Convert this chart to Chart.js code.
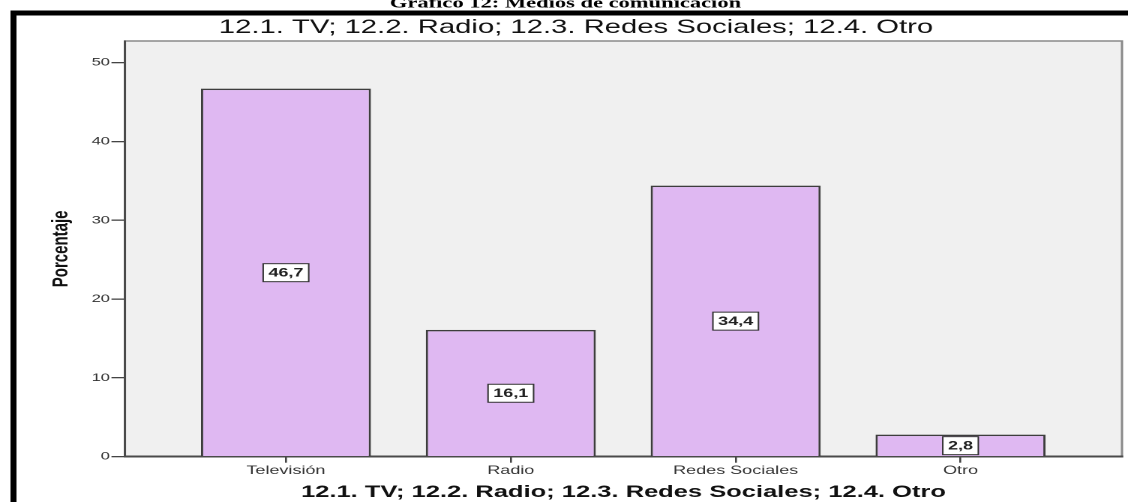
<!DOCTYPE html>
<html>
<head>
<meta charset="utf-8">
<script src="https://cdn.jsdelivr.net/npm/chart.js@4/dist/chart.umd.min.js"></script>
<style>
  html, body { margin: 0; padding: 0; background: #fff; overflow: hidden; }
  /* el gráfico se dibuja en 752px y se estira a lo ancho hasta 1128px */
  #wrap { width: 752px; height: 502px; transform: scale(1.5, 1); transform-origin: 0 0; }
</style>
</head>
<body>
<div id="wrap"><canvas id="grafico" width="752" height="502"></canvas></div>
<script>
// Datos del gráfico
const categorias = ['Televisión', 'Radio', 'Redes Sociales', 'Otro'];
const porcentajes = [46.7, 16.1, 34.4, 2.8];
const marcasY = [0, 10, 20, 30, 40, 50];

const encabezado = 'Gráfico 12: Medios de comunicación';
const tituloVariable = '12.1. TV; 12.2. Radio; 12.3. Redes Sociales; 12.4. Otro';

const FUENTE = '"Liberation Sans", Arial, sans-serif';

function formatoComa(v) {
    return v.toFixed(1).replace('.', ',');
}

// Fondo gris del área de trazado, marco negro y títulos superiores
const marcoPlugin = {
    id: 'marco',
    beforeDraw(chart) {
        const ctx = chart.ctx;
        const a = chart.chartArea;
        ctx.save();
        // marco exterior
        ctx.fillStyle = '#000';
        ctx.fillRect(7, 10.5, 760, 5);
        ctx.fillRect(7, 10.5, 4, 500);
        // encabezado (cortado por arriba)
        ctx.font = 'bold 15px "Liberation Serif", "Times New Roman", serif';
        ctx.textAlign = 'center';
        ctx.textBaseline = 'alphabetic';
        ctx.fillText(encabezado, 377, 7.5);
        // título de la variable
        ctx.font = '19.5px ' + FUENTE;
        ctx.fillStyle = '#111';
        ctx.fillText(tituloVariable, 384, 33);
        // área de trazado
        ctx.fillStyle = '#f0f0f0';
        ctx.fillRect(a.left, a.top, a.right - a.left, a.bottom - a.top);
        ctx.strokeStyle = '#8a8a8a';
        ctx.lineWidth = 1.5;
        ctx.strokeRect(a.left, a.top, a.right - a.left, a.bottom - a.top);
        ctx.restore();
    }
};

// Etiquetas con el valor en el centro de cada barra
const etiquetasPlugin = {
    id: 'etiquetas',
    afterDatasetsDraw(chart) {
        const ctx = chart.ctx;
        const meta = chart.getDatasetMeta(0);
        const y = chart.scales.y;
        ctx.save();
        ctx.font = 'bold 12px ' + FUENTE;
        ctx.textAlign = 'center';
        ctx.textBaseline = 'middle';
        meta.data.forEach((barra, i) => {
            const v = porcentajes[i];
            const texto = formatoComa(v);
            const cy = y.getPixelForValue(v / 2);
            const w = ctx.measureText(texto).width + 7;
            const h = 18;
            ctx.fillStyle = '#fff';
            ctx.fillRect(barra.x - w / 2, cy - h / 2, w, h);
            ctx.strokeStyle = '#333';
            ctx.lineWidth = 1;
            ctx.strokeRect(barra.x - w / 2, cy - h / 2, w, h);
            ctx.fillStyle = '#222';
            ctx.fillText(texto, barra.x, cy + 0.5);
        });
        ctx.restore();
    }
};

const ctx = document.getElementById('grafico').getContext('2d');
new Chart(ctx, {
    type: 'bar',
    data: {
        datasets: [{
            data: porcentajes.map((v, i) => ({ x: i, y: v })),
            backgroundColor: '#dfb8f2',
            borderColor: '#3d3d3d',
            borderWidth: 1.5,
            barPercentage: 0.756,
            categoryPercentage: 1
        }]
    },
    options: {
        responsive: false,
        devicePixelRatio: 2,
        animation: false,
        layout: { padding: { left: 0, right: 4, top: 41, bottom: 0 } },
        plugins: {
            legend: { display: false },
            tooltip: { enabled: false }
        },
        scales: {
            x: {
                type: 'linear',
                offset: false,
                min: -0.716,
                max: 3.718,
                afterBuildTicks: (scale) => {
                    scale.ticks = categorias.map((_, i) => ({ value: i }));
                },
                afterFit: (scale) => { scale.height = 45.3; },
                ticks: {
                    callback: (v) => categorias[v],
                    autoSkip: false,
                    maxRotation: 0,
                    padding: 1,
                    color: '#333',
                    font: { family: FUENTE, size: 12 }
                },
                grid: {
                    offset: false,
                    drawOnChartArea: false,
                    tickLength: 6,
                    color: '#444',
                    lineWidth: 1.3
                },
                border: { display: true, color: '#4a4a4a', width: 2 },
                title: {
                    display: true,
                    text: tituloVariable,
                    color: '#111',
                    font: { family: FUENTE, size: 17, weight: 'bold', lineHeight: 1 },
                    padding: { top: 0, bottom: 1 }
                }
            },
            y: {
                min: 0,
                max: 52.75,
                afterBuildTicks: (scale) => {
                    scale.ticks = marcasY.map(v => ({ value: v }));
                },
                afterFit: (scale) => { scale.width = 83.3; },
                ticks: {
                    includeBounds: false,
                    padding: 1,
                    color: '#333',
                    font: { family: FUENTE, size: 11 }
                },
                grid: {
                    drawOnChartArea: false,
                    tickLength: 9,
                    color: '#444',
                    lineWidth: 1.3
                },
                border: { display: true, color: '#4a4a4a', width: 1.5 },
                title: {
                    display: true,
                    text: 'Porcentaje',
                    color: '#111',
                    font: { family: FUENTE, size: 15, weight: 'bold', lineHeight: 1.2 },
                    padding: { top: 32, bottom: 0 }
                }
            }
        }
    },
    plugins: [marcoPlugin, etiquetasPlugin]
});
</script>
</body>
</html>
